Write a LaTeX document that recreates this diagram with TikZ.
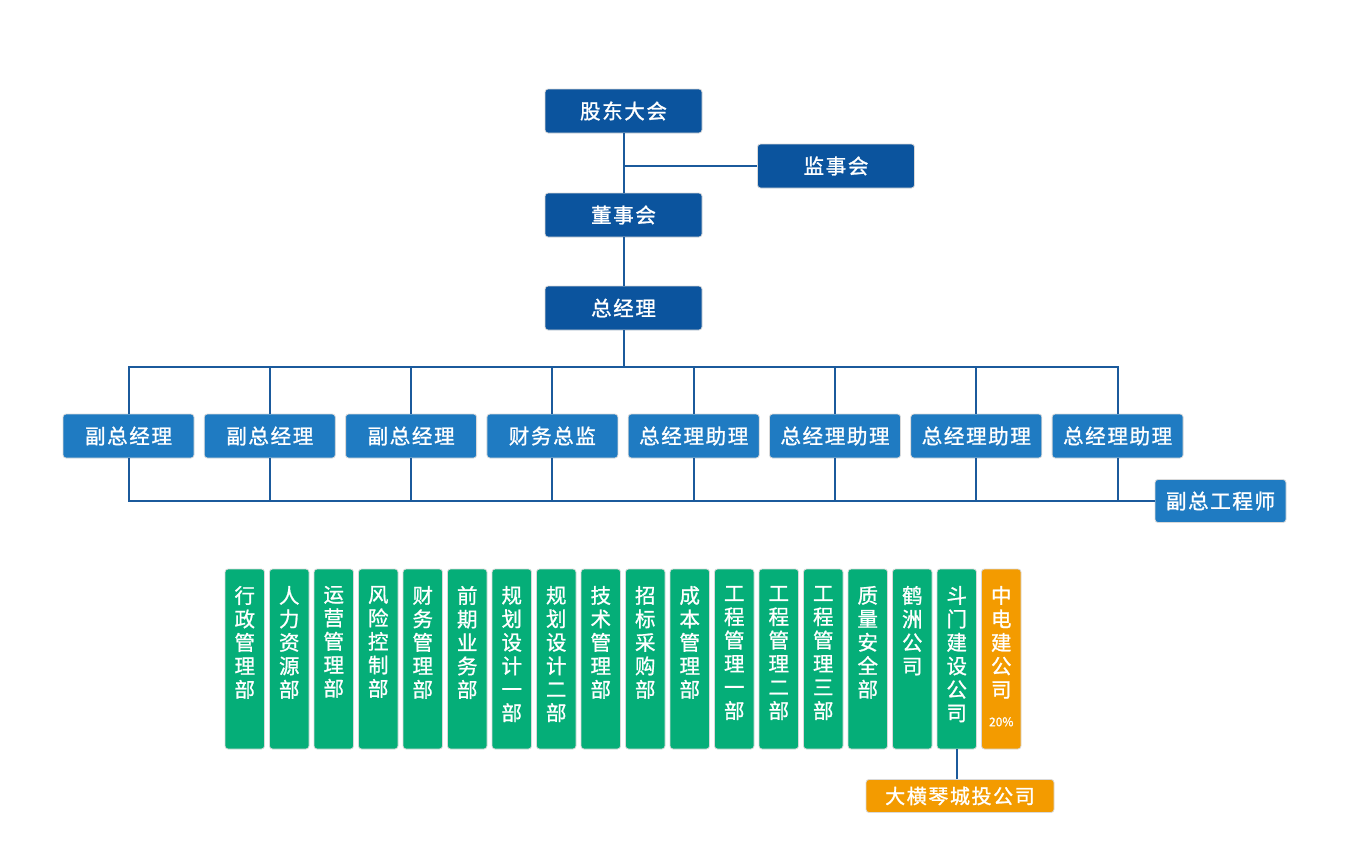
\documentclass[tikz,border=0pt]{standalone}
\usepackage{fontspec}
\setmainfont{Noto Sans CJK SC}[FakeBold=1]
\newfontfamily\cjk{Noto Sans CJK SC}[LetterSpace=8,FakeBold=1.2]
\usetikzlibrary{positioning}
\definecolor{darkblue}{HTML}{0B549E}
\definecolor{midblue}{HTML}{1F7BC2}
\definecolor{deptgreen}{HTML}{05AE78}
\definecolor{suborange}{HTML}{F39B00}
\definecolor{linecol}{HTML}{1B5A9C}
\newcommand\Vbox[1]{%
  \parbox[c][180pt][t]{39.5pt}{\centering\vspace*{17pt}\fontsize{20.5}{23.5}\selectfont#1}}

\begin{document}
\begin{tikzpicture}[x=1pt,y=-1pt,
line/.style={draw=linecol, line width=2pt},
topbox/.style={
  rectangle, rounded corners=3pt,
  fill=darkblue, draw=black!15, line width=0.8pt,
  text=white, inner sep=0pt,
  minimum width=157pt, minimum height=44pt,
  font=\cjk\fontsize{20.5}{24}\selectfont
},
midbox/.style={topbox, fill=midblue, minimum width=131pt},
dept/.style={
  rectangle, rounded corners=3pt,
  fill=deptgreen, draw=black!15, line width=0.8pt,
  text=white, inner sep=0pt
},
sub/.style={dept, fill=suborange}]
\useasboundingbox (0,0) rectangle (1365,854);

% leadership
\node (gdh) [topbox] at (623.5,111) {股东大会};
\node (jsh) [topbox] at (836,166) {监事会};
\node (dsh) [topbox] at (623.5,215) {董事会};
\node (zjl) [topbox] at (623.5,308) {总经理};

% deputies
\node (fz1) [midbox] at (128.5,436) {副总经理};
\node (fz2) [midbox, right=9.5pt of fz1] {副总经理};
\node (fz3) [midbox, right=9.5pt of fz2] {副总经理};
\node (cwzj) [midbox, right=9.5pt of fz3] {财务总监};
\node (zl1) [midbox, right=9.5pt of cwzj] {总经理助理};
\node (zl2) [midbox, right=9.5pt of zl1] {总经理助理};
\node (zl3) [midbox, right=9.5pt of zl2] {总经理助理};
\node (zl4) [midbox, right=9.5pt of zl3] {总经理助理};
\node (fzgcs) [midbox, minimum height=43pt] at (1220.5,501) {副总工程师};

% departments
\node (d1) [dept] at (244.75,659) {\Vbox{行\\政\\管\\理\\部}};
\node (d2) [dept, right=4.2pt of d1] {\Vbox{人\\力\\资\\源\\部}};
\node (d3) [dept, right=4.2pt of d2] {\Vbox{运\\营\\管\\理\\部}};
\node (d4) [dept, right=4.2pt of d3] {\Vbox{风\\险\\控\\制\\部}};
\node (d5) [dept, right=4.2pt of d4] {\Vbox{财\\务\\管\\理\\部}};
\node (d6) [dept, right=4.2pt of d5] {\Vbox{前\\期\\业\\务\\部}};
\node (d7) [dept, right=4.2pt of d6] {\Vbox{规\\划\\设\\计\\一\\部}};
\node (d8) [dept, right=4.2pt of d7] {\Vbox{规\\划\\设\\计\\二\\部}};
\node (d9) [dept, right=4.2pt of d8] {\Vbox{技\\术\\管\\理\\部}};
\node (d10) [dept, right=4.2pt of d9] {\Vbox{招\\标\\采\\购\\部}};
\node (d11) [dept, right=4.2pt of d10] {\Vbox{成\\本\\管\\理\\部}};
\node (d12) [dept, right=4.2pt of d11] {\Vbox{工\\程\\管\\理\\一\\部}};
\node (d13) [dept, right=4.2pt of d12] {\Vbox{工\\程\\管\\理\\二\\部}};
\node (d14) [dept, right=4.2pt of d13] {\Vbox{工\\程\\管\\理\\三\\部}};
\node (d15) [dept, right=4.2pt of d14] {\Vbox{质\\量\\安\\全\\部}};
\node (d16) [dept, right=4.2pt of d15] {\Vbox{鹤\\洲\\公\\司}};
\node (d17) [dept, right=4.2pt of d16] {\Vbox{斗\\门\\建\\设\\公\\司}};
\node (zdj) [sub, right=4.2pt of d17] {\Vbox{中\\电\\建\\公\\司\\[5.5pt]{\fontsize{12}{14}\selectfont 20\%}}};
\node (dhq) [sub, minimum width=188pt, minimum height=33pt,
  font=\cjk\fontsize{20}{22}\selectfont] at (960,796) {大横琴城投公司};

% connectors
\coordinate (bus) at (623.5,367);
\draw [line] (gdh) -- (dsh);
\draw [line] (dsh) -- (zjl);
\draw [line] (jsh.west) -- (jsh.west -| gdh.south);
\draw [line] (zjl) -- (bus);
\draw [line] (fz1.north) |- (bus) (fz2.north) |- (bus) (fz3.north) |- (bus)
  (cwzj.north) |- (bus) (zl1.north) |- (bus) (zl2.north) |- (bus)
  (zl3.north) |- (bus) (zl4.north) |- (bus);
\draw [line] (fz1.south) |- (fzgcs.west) (fz2.south) |- (fzgcs.west)
  (fz3.south) |- (fzgcs.west) (cwzj.south) |- (fzgcs.west)
  (zl1.south) |- (fzgcs.west) (zl2.south) |- (fzgcs.west)
  (zl3.south) |- (fzgcs.west) (zl4.south) |- (fzgcs.west);
\draw [line] (d17.south) -- (d17.south |- dhq.north);
\end{tikzpicture}
\end{document}
